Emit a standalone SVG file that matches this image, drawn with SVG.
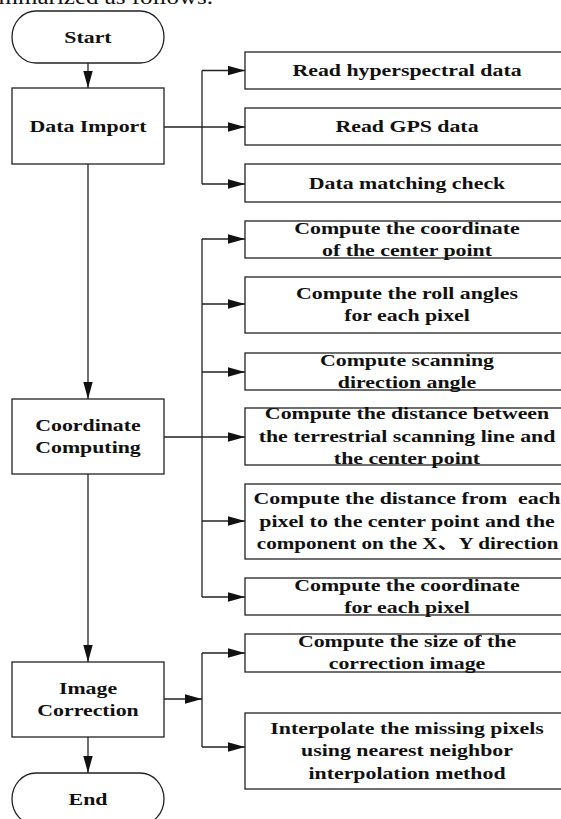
<svg xmlns="http://www.w3.org/2000/svg" width="561" height="819" viewBox="0 0 561 819">
<style>
.box{fill:#fff;stroke:#222;stroke-width:1.3}
.lbl{font-family:"Liberation Serif","Noto Sans CJK SC",serif;font-weight:bold;font-size:16.8px;fill:#111;text-anchor:middle}
.body{font-family:"Liberation Serif",serif;font-size:20px;fill:#111;text-anchor:end}
.ln{fill:none;stroke:#222;stroke-width:1.3}
.ar{fill:none;stroke:#222;stroke-width:1.3;marker-end:url(#ah)}
</style>
<defs>
<marker id="ah" markerUnits="userSpaceOnUse" markerWidth="18" markerHeight="10" refX="17" refY="4.7" orient="auto">
<path d="M0,0 L17,4.7 L0,9.4 z" fill="#111"/>
</marker>
</defs>
<rect width="561" height="819" fill="#fff"/>
<text class="body" transform="matrix(1.25 0 0 1 213 0)" x="0" y="4">summarized as follows.</text>

<g id="connectors">
<path class="ar" d="M88,63 V88"/>
<path class="ln" d="M164,127 H202 M202,70.5 V184"/>
<path class="ar" d="M202,70.5 H245"/>
<path class="ar" d="M202,127 H245"/>
<path class="ar" d="M202,184 H245"/>
<path class="ar" d="M88,164 V399"/>
<path class="ln" d="M164,437 H202 M202,239 V597"/>
<path class="ar" d="M202,239 H245"/>
<path class="ar" d="M202,304 H245"/>
<path class="ar" d="M202,372 H245"/>
<path class="ar" d="M202,437 H245"/>
<path class="ar" d="M202,521 H245"/>
<path class="ar" d="M202,597 H245"/>
<path class="ar" d="M88,474 V662"/>
<path class="ar" d="M164,699 H202"/>
<path class="ln" d="M202,653 V747"/>
<path class="ar" d="M202,653 H245"/>
<path class="ar" d="M202,747 H245"/>
<path class="ar" d="M88,737 V773"/>
</g>

<g id="start">
<rect class="box" x="12" y="11" width="152" height="52" rx="24" ry="26"/>
<text class="lbl" transform="matrix(1.3 0 0 1 88 0)" x="0" y="43">Start</text>
</g>
<g id="data-import">
<rect class="box" x="12" y="88" width="152" height="76"/>
<text class="lbl" transform="matrix(1.3 0 0 1 88 0)" x="0" y="132.5">Data Import</text>
</g>
<g id="read-hyper">
<rect class="box" x="245" y="52" width="320" height="37"/>
<text class="lbl" transform="matrix(1.3 0 0 1 407 0)" x="0" y="76">Read hyperspectral data</text>
</g>
<g id="read-gps">
<rect class="box" x="245" y="108" width="320" height="37"/>
<text class="lbl" transform="matrix(1.3 0 0 1 407 0)" x="0" y="132">Read GPS data</text>
</g>
<g id="matching">
<rect class="box" x="245" y="164" width="320" height="38"/>
<text class="lbl" transform="matrix(1.3 0 0 1 407 0)" x="0" y="189">Data matching check</text>
</g>

<g id="coord-computing">
<rect class="box" x="12" y="399" width="152" height="75"/>
<text class="lbl" transform="matrix(1.3 0 0 1 88 0)"><tspan x="0" y="431">Coordinate</tspan><tspan x="0" y="453">Computing</tspan></text>
</g>
<g id="center-point">
<rect class="box" x="245" y="221" width="320" height="37"/>
<text class="lbl" transform="matrix(1.3 0 0 1 407 0)"><tspan x="0" y="234">Compute the coordinate</tspan><tspan x="0" y="256">of the center point</tspan></text>
</g>
<g id="roll-angles">
<rect class="box" x="245" y="277" width="320" height="56"/>
<text class="lbl" transform="matrix(1.3 0 0 1 407 0)"><tspan x="0" y="299.5">Compute the roll angles</tspan><tspan x="0" y="321.5">for each pixel</tspan></text>
</g>
<g id="scan-angle">
<rect class="box" x="245" y="353" width="320" height="37"/>
<text class="lbl" transform="matrix(1.3 0 0 1 407 0)"><tspan x="0" y="366">Compute scanning</tspan><tspan x="0" y="388">direction angle</tspan></text>
</g>
<g id="distance-line">
<rect class="box" x="245" y="408" width="320" height="57"/>
<text class="lbl" transform="matrix(1.3 0 0 1 407 0)"><tspan x="0" y="419.5">Compute the distance between</tspan><tspan x="0" y="442">the terrestrial scanning line and</tspan><tspan x="0" y="464.5">the center point</tspan></text>
</g>
<g id="distance-pixel">
<rect class="box" x="245" y="484" width="320" height="75"/>
<text class="lbl" xml:space="preserve" transform="matrix(1.3 0 0 1 407 0)"><tspan x="0" y="504.5">Compute the distance from  each</tspan><tspan x="0" y="527">pixel to the center point and the</tspan><tspan x="0.5" y="549.5" textLength="232" lengthAdjust="spacingAndGlyphs">component on the X、Y direction</tspan></text>
</g>
<g id="pixel-coord">
<rect class="box" x="245" y="578" width="320" height="37"/>
<text class="lbl" transform="matrix(1.3 0 0 1 407 0)"><tspan x="0" y="591">Compute the coordinate</tspan><tspan x="0" y="613">for each pixel</tspan></text>
</g>

<g id="image-correction">
<rect class="box" x="12" y="662" width="152" height="75"/>
<text class="lbl" transform="matrix(1.3 0 0 1 88 0)"><tspan x="0" y="694">Image</tspan><tspan x="0" y="716">Correction</tspan></text>
</g>
<g id="image-size">
<rect class="box" x="245" y="634" width="320" height="38"/>
<text class="lbl" transform="matrix(1.3 0 0 1 407 0)"><tspan x="0" y="647.5">Compute the size of the</tspan><tspan x="0" y="669.5">correction image</tspan></text>
</g>
<g id="interpolate">
<rect class="box" x="245" y="713" width="320" height="76"/>
<text class="lbl" transform="matrix(1.3 0 0 1 407 0)"><tspan x="0" y="734">Interpolate the missing pixels</tspan><tspan x="0" y="756.5">using nearest neighbor</tspan><tspan x="0" y="779">interpolation method</tspan></text>
</g>
<g id="end">
<rect class="box" x="12" y="773" width="152" height="52" rx="24" ry="26"/>
<text class="lbl" transform="matrix(1.3 0 0 1 88 0)" x="0" y="805">End</text>
</g>
</svg>
